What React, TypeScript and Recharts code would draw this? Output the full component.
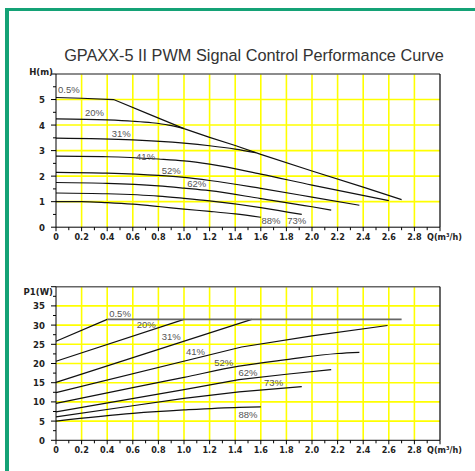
import React from 'react';
import { LineChart, Line, XAxis, YAxis, ReferenceLine, ReferenceDot } from 'recharts';

// flow axis ticks (m³/h), every 0.1, labelled every 0.2
const Q_TICKS = [0, 0.1, 0.2, 0.3, 0.4, 0.5, 0.6, 0.7, 0.8, 0.9, 1.0, 1.1, 1.2, 1.3, 1.4, 1.5,
    1.6, 1.7, 1.8, 1.9, 2.0, 2.1, 2.2, 2.3, 2.4, 2.5, 2.6, 2.7, 2.8, 2.9, 3.0];
const Q_GRID = [0.2, 0.4, 0.6, 0.8, 1.0, 1.2, 1.4, 1.6, 1.8, 2.0, 2.2, 2.4, 2.6, 2.8];

const H_TICKS = [0, 0.5, 1, 1.5, 2, 2.5, 3, 3.5, 4, 4.5, 5, 5.5, 6];
const H_GRID = [1, 2, 3, 4, 5];

const P_TICKS = [0, 2.5, 5, 7.5, 10, 12.5, 15, 17.5, 20, 22.5, 25, 27.5, 30, 32.5, 35, 37.5, 40];
const P_GRID = [5, 10, 15, 20, 25, 30, 35];

// head curves H(m) vs Q
const head05 = [
    { q: 0, h: 5.08 }, { q: 0.2, h: 5.05 }, { q: 0.45, h: 5.0 }, { q: 0.73, h: 4.42 },
    { q: 1.0, h: 3.86 }, { q: 1.2, h: 3.52 }, { q: 1.4, h: 3.2 }, { q: 1.6, h: 2.85 },
    { q: 2.0, h: 2.2 }, { q: 2.4, h: 1.57 }, { q: 2.7, h: 1.08 },
];
const head20 = [
    { q: 0, h: 4.24 }, { q: 0.4, h: 4.2 }, { q: 0.6, h: 4.15 }, { q: 0.75, h: 4.09 },
    { q: 0.88, h: 4.0 }, { q: 1.0, h: 3.86 },
];
const head31 = [
    { q: 0, h: 3.49 }, { q: 0.6, h: 3.42 }, { q: 1.0, h: 3.29 }, { q: 1.2, h: 3.19 },
    { q: 1.4, h: 3.06 }, { q: 1.56, h: 2.92 },
];
const head41 = [
    { q: 0, h: 2.78 }, { q: 0.4, h: 2.76 }, { q: 0.8, h: 2.67 }, { q: 1.0, h: 2.6 },
    { q: 1.2, h: 2.47 }, { q: 1.6, h: 2.08 }, { q: 2.0, h: 1.65 }, { q: 2.6, h: 1.04 },
];
const head52 = [
    { q: 0, h: 2.15 }, { q: 0.4, h: 2.12 }, { q: 0.8, h: 2.03 }, { q: 1.0, h: 1.95 },
    { q: 1.2, h: 1.83 }, { q: 1.6, h: 1.52 }, { q: 2.0, h: 1.18 }, { q: 2.37, h: 0.86 },
];
const head62 = [
    { q: 0, h: 1.75 }, { q: 0.4, h: 1.72 }, { q: 0.8, h: 1.62 }, { q: 1.0, h: 1.53 },
    { q: 1.2, h: 1.43 }, { q: 1.6, h: 1.12 }, { q: 2.0, h: 0.8 }, { q: 2.15, h: 0.67 },
];
const head73 = [
    { q: 0, h: 1.34 }, { q: 0.4, h: 1.31 }, { q: 0.8, h: 1.22 }, { q: 1.0, h: 1.13 },
    { q: 1.2, h: 1.03 }, { q: 1.6, h: 0.77 }, { q: 1.92, h: 0.5 },
];
const head88 = [
    { q: 0, h: 1.0 }, { q: 0.2, h: 1.0 }, { q: 0.4, h: 0.96 }, { q: 0.6, h: 0.9 },
    { q: 0.8, h: 0.81 }, { q: 1.0, h: 0.71 }, { q: 1.2, h: 0.62 }, { q: 1.4, h: 0.52 },
    { q: 1.6, h: 0.39 },
];

// power curves P1(W) vs Q
const powerMax = [{ q: 0.4, p: 31.5 }, { q: 2.7, p: 31.5 }];
const power05 = [{ q: 0, p: 25.8 }, { q: 0.4, p: 31.5 }];
const power20 = [{ q: 0, p: 20.6 }, { q: 1.0, p: 31.5 }];
const power31 = [{ q: 0, p: 15.1 }, { q: 1.53, p: 31.5 }];
const power41 = [
    { q: 0, p: 12.4 }, { q: 1.45, p: 24.3 }, { q: 2.0, p: 27.2 }, { q: 2.59, p: 29.9 },
];
const power52 = [
    { q: 0, p: 9.6 }, { q: 0.6, p: 13.7 }, { q: 1.0, p: 16.4 }, { q: 1.43, p: 19.3 },
    { q: 1.8, p: 21.0 }, { q: 2.2, p: 22.6 }, { q: 2.37, p: 22.9 },
];
const power62 = [
    { q: 0, p: 7.4 }, { q: 1.0, p: 13.2 }, { q: 1.43, p: 15.8 }, { q: 1.8, p: 17.2 },
    { q: 2.15, p: 18.4 },
];
const power73 = [
    { q: 0, p: 6.1 }, { q: 0.6, p: 9.0 }, { q: 1.0, p: 10.9 }, { q: 1.43, p: 12.6 },
    { q: 1.92, p: 14.0 },
];
const power88 = [
    { q: 0, p: 5.0 }, { q: 0.6, p: 7.0 }, { q: 1.0, p: 7.9 }, { q: 1.43, p: 8.6 },
    { q: 1.6, p: 8.7 },
];

const headLabels = [
    { q: 0.1, v: 5.38, text: '0.5%' }, { q: 0.3, v: 4.48, text: '20%' },
    { q: 0.51, v: 3.68, text: '31%' }, { q: 0.7, v: 2.76, text: '41%' },
    { q: 0.9, v: 2.2, text: '52%' }, { q: 1.1, v: 1.7, text: '62%' },
    { q: 1.68, v: 0.25, text: '88%' }, { q: 1.88, v: 0.25, text: '73%' },
];
const powerLabels = [
    { q: 0.5, v: 33.0, text: '0.5%' }, { q: 0.705, v: 30.2, text: '20%' },
    { q: 0.9, v: 27.0, text: '31%' }, { q: 1.09, v: 23.0, text: '41%' },
    { q: 1.31, v: 20.2, text: '52%' }, { q: 1.5, v: 17.6, text: '62%' },
    { q: 1.7, v: 15.0, text: '73%' }, { q: 1.5, v: 6.8, text: '88%' },
];

const AXIS_FONT = "'Liberation Sans Narrow', 'DejaVu Sans Condensed', sans-serif";
const YELLOW = '#ffff00';

const XTick = (props: any) => {
    const { x, y, payload } = props;
    const v = payload.value;
    const major = Math.round(v * 10) % 2 === 0;
    const isEnd = v > 2.95;
    let label = '';
    if (major) label = v === 0 ? '0' : isEnd ? 'Q(m³/h)' : v.toFixed(1);
    return (
        <g>
            <line x1={x} y1={y} x2={x} y2={y + (major ? 4 : 3)} stroke="#000" strokeWidth={1} />
            {label && (
                <text x={isEnd ? x - 13 : x} y={y + 13} textAnchor={isEnd ? 'start' : 'middle'}
                    fontSize={9} fontWeight="bold" fontFamily={AXIS_FONT} fill="#222">{label}</text>
            )}
        </g>
    );
};

const makeYTick = (majorStep: number, top: number, title: string, titleDy: number) => (props: any) => {
    const { x, y, payload } = props;
    const v = payload.value;
    const major = Math.abs(v / majorStep - Math.round(v / majorStep)) < 1e-6;
    const isTop = v === top;
    return (
        <g>
            <line x1={x - (major ? 5 : 3)} y1={y} x2={x} y2={y} stroke="#000" strokeWidth={1} />
            {major && (
                <text x={isTop ? x - 3 : x - 11} y={y + 3.5 + (isTop ? titleDy : 0)} textAnchor="end"
                    fontSize={9.5} fontWeight="bold" fontFamily={AXIS_FONT} fill="#222">
                    {isTop ? title : String(v)}
                </text>
            )}
        </g>
    );
};

const HTick = makeYTick(1, 6, 'H(m)', -3);
const PTick = makeYTick(5, 40, 'P1(W)', 5);

const curveLabel = (l: { q: number; v: number; text: string }, i: number) => (
    <ReferenceDot key={i} x={l.q} y={l.v} r={1} fill="none" stroke="none"
        label={{ value: l.text, position: 'center', fill: '#555', fontSize: 9.5, fontFamily: "'Liberation Sans', Arial, sans-serif" }} />
);

const lineProps = {
    dataKey: 'h', stroke: '#111', strokeWidth: 1.2, dot: false,
    isAnimationActive: false, type: 'monotone' as const,
};

const HeadChart = () => (
    <LineChart width={475} height={250} margin={{ top: 74, right: 35, left: 26, bottom: 2.8 }}>
        <XAxis dataKey="q" type="number" domain={[0, 3]} ticks={Q_TICKS} interval={0}
            tickSize={0} tickMargin={0} height={20} stroke="#000" tick={XTick} allowDuplicatedCategory={false} />
        <YAxis type="number" domain={[0, 6]} ticks={H_TICKS} interval={0} width={30}
            tickSize={0} tickMargin={0} stroke="#000" tick={HTick} />
        {Q_GRID.map((v) => <ReferenceLine key={'qx' + v} x={v} stroke={YELLOW} strokeWidth={1.6} />)}
        {H_GRID.map((v) => <ReferenceLine key={'hy' + v} y={v} stroke={YELLOW} strokeWidth={1.6} />)}
        <ReferenceLine y={6} stroke="#666" strokeWidth={1.5} />
        <ReferenceLine x={3} stroke="#000" strokeWidth={1.2} />
        <Line {...lineProps} data={head88} type="monotone" />
        <Line {...lineProps} data={head73} />
        <Line {...lineProps} data={head62} />
        <Line {...lineProps} data={head52} />
        <Line {...lineProps} data={head41} />
        <Line {...lineProps} data={head31} />
        <Line {...lineProps} data={head20} />
        <Line {...lineProps} data={head05} type="linear" />
        {headLabels.map(curveLabel)}
    </LineChart>
);

const pLine = { ...lineProps, dataKey: 'p', type: 'linear' as const };

const PowerChart = () => (
    <LineChart width={475} height={470} margin={{ top: 286.7, right: 35, left: 26, bottom: 9.7 }}>
        <XAxis dataKey="q" type="number" domain={[0, 3]} ticks={Q_TICKS} interval={0}
            tickSize={0} tickMargin={0} height={20} stroke="#000" tick={XTick} allowDuplicatedCategory={false} />
        <YAxis type="number" domain={[0, 40]} ticks={P_TICKS} interval={0} width={30}
            tickSize={0} tickMargin={0} stroke="#000" tick={PTick} />
        {Q_GRID.map((v) => <ReferenceLine key={'qx' + v} x={v} stroke={YELLOW} strokeWidth={1.6} />)}
        {P_GRID.map((v) => <ReferenceLine key={'py' + v} y={v} stroke={YELLOW} strokeWidth={1.6} />)}
        <ReferenceLine y={40} stroke="#666" strokeWidth={1.5} />
        <ReferenceLine x={3} stroke="#000" strokeWidth={1.2} />
        <Line {...pLine} data={power88} type="monotone" />
        <Line {...pLine} data={power73} />
        <Line {...pLine} data={power62} />
        <Line {...pLine} data={power52} type="monotone" />
        <Line {...pLine} data={power41} />
        <Line {...pLine} data={power31} />
        <Line {...pLine} data={power20} />
        <Line {...pLine} data={power05} />
        <Line {...pLine} data={powerMax} stroke="#666" strokeWidth={1.8} />
        {powerLabels.map(curveLabel)}
    </LineChart>
);

export default function App() {
    return (
        <div style={{ position: 'absolute', left: 0, top: 0, width: 475, height: 471, overflow: 'hidden', background: '#fff' }}>
            <div style={{
                position: 'absolute', left: 5, top: 8, width: 490, height: 490,
                borderLeft: '4px solid #14a276', borderTop: '3px solid #14a276', boxSizing: 'border-box',
            }} />
            <svg width={475} height={471} style={{ position: 'absolute', left: 0, top: 0 }}>
                <text x={254} y={61} textAnchor="middle" fontSize={16.3}
                    fontFamily="'Liberation Sans', Arial, sans-serif" fill="#333">
                    GPAXX-5 II PWM Signal Control Performance Curve
                </text>
            </svg>
            <div style={{ position: 'absolute', left: 0, top: 0 }}>
                <HeadChart />
            </div>
            <div style={{ position: 'absolute', left: 0, top: 0 }}>
                <PowerChart />
            </div>
        </div>
    );
}
